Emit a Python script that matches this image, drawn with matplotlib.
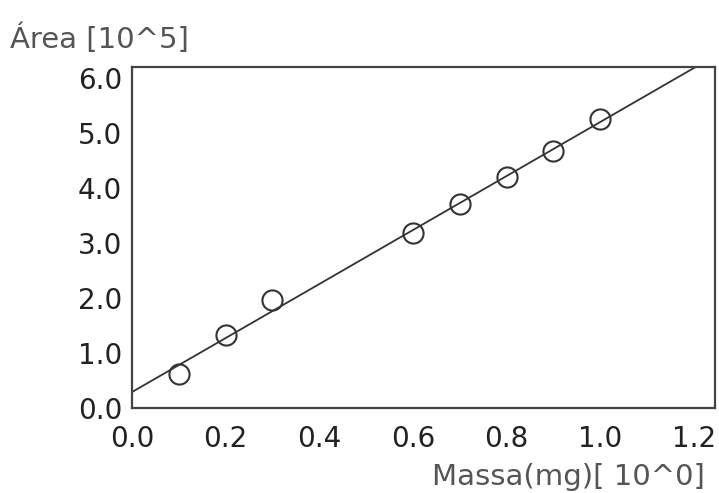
import matplotlib
matplotlib.use("Agg")
import matplotlib.pyplot as plt
import numpy as np

# Dados
massa = [0.1, 0.2, 0.3, 0.6, 0.7, 0.8, 0.9, 1.0]
area = [0.62, 1.33, 1.96, 3.18, 3.71, 4.20, 4.67, 5.25]
# Reta de ajuste
inclinacao = 4.91
intercepto = 0.29

xticks = [0.0, 0.2, 0.4, 0.6, 0.8, 1.0, 1.2]
yticks = [0.0, 1.0, 2.0, 3.0, 4.0, 5.0, 6.0]

plt.rcParams["font.family"] = ["DejaVu Sans"]

fig = plt.figure(figsize=(7.19, 4.93), dpi=100)
ax = fig.add_axes([0.1836, 0.1724, 0.8108, 0.6917])

x_fit = np.array([0.0, 1.3])
ax.plot(x_fit, intercepto + inclinacao * x_fit, color="#333333", lw=1.3)
ax.plot(massa, area, "o", mfc="none", mec="#333333", mew=1.5, ms=14.5)

ax.set_xlim(0, 1.245)
ax.set_ylim(0, 6.2)
ax.set_xticks(xticks)
ax.set_yticks(yticks)
ax.set_xticklabels([f"{v:.1f}" for v in xticks])
ax.set_yticklabels([f"{v:.1f}" for v in yticks])
ax.tick_params(length=0, labelsize=20, labelcolor="#222222")
ax.tick_params(axis="x", pad=12)
ax.tick_params(axis="y", pad=7)
for s in ax.spines.values():
    s.set_color("#444444")
    s.set_linewidth(1.6)

fig.text(0.0139, 1 - 48 / 493, "Área [10^5]", fontsize=21, color="#555555",
         va="baseline", ha="left")
fig.text(705 / 719, 1 - 485 / 493, "Massa(mg)[ 10^0]", fontsize=21, color="#555555",
         va="baseline", ha="right")

fig.savefig("out.png", dpi=100)
